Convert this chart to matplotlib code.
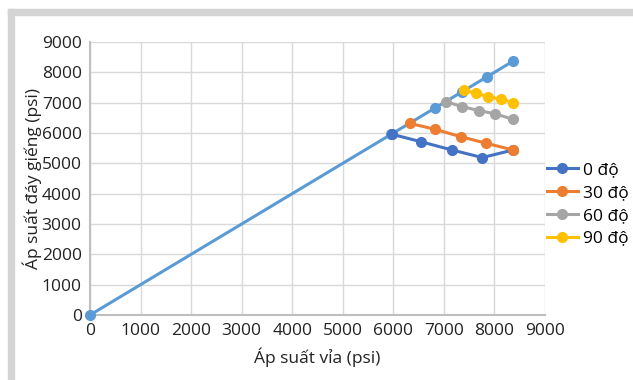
import numpy as np
import matplotlib
matplotlib.use('Agg')
import matplotlib.pyplot as plt
from matplotlib.patches import Rectangle

# du lieu doc tu hinh
ref_x = [0, 5960, 6820, 7350, 7850, 8370]
ref_y = [0, 5960, 6820, 7350, 7850, 8370]

x_0 = [5970, 6550, 7160, 7760, 8370]
y_0 = [5960, 5710, 5440, 5190, 5440]

x_30 = [6320, 6830, 7330, 7840, 8370]
y_30 = [6320, 6120, 5880, 5660, 5440]

x_60 = [7040, 7360, 7690, 8020, 8370]
y_60 = [7030, 6870, 6740, 6630, 6450]

x_90 = [7390, 7640, 7870, 8130, 8370]
y_90 = [7420, 7310, 7200, 7110, 7000]

labels = ['0 độ', '30 độ', '60 độ', '90 độ']
ticks = list(range(0, 10000, 1000))

plt.rcParams['font.family'] = ['Open Sans', 'DejaVu Sans']
fs = 12.5

fig = plt.figure(figsize=(6.33, 3.8), dpi=100)
# khung xam tren va trai
fig.patches.append(Rectangle((8/633, 1-15/380), 1, 6/380, transform=fig.transFigure,
                             color='#D4D4D4', zorder=0))
fig.patches.append(Rectangle((8/633, 0), 6/633, 1-9/380, transform=fig.transFigure,
                             color='#D4D4D4', zorder=0))

ax = fig.add_axes([90/633, 1-315/380, 455/633, 273/380])
ax.plot(ref_x, ref_y, color='#5B9BD5', lw=2.2, marker='o', ms=7, zorder=3, clip_on=False)
ax.plot(x_0, y_0, color='#4472C4', lw=2.2, marker='o', ms=7, label=labels[0], zorder=4)
ax.plot(x_30, y_30, color='#ED7D31', lw=2.2, marker='o', ms=7, label=labels[1], zorder=4)
ax.plot(x_60, y_60, color='#A5A5A5', lw=2.2, marker='o', ms=7, label=labels[2], zorder=4)
ax.plot(x_90, y_90, color='#FFC000', lw=2.2, marker='o', ms=7, label=labels[3], zorder=4)

ax.set_xlim(0, 9000)
ax.set_ylim(0, 9000)
ax.set_xticks(ticks)
ax.set_yticks(ticks)
ax.grid(True, color='#D9D9D9', lw=1.0)
ax.set_axisbelow(True)
for s in ['top', 'right']:
    ax.spines[s].set_visible(False)
for s in ['left', 'bottom']:
    ax.spines[s].set_color('#BFBFBF')
    ax.spines[s].set_linewidth(1.5)
ax.tick_params(length=0, labelsize=fs, colors='#222222', pad=6)
ax.set_xlabel('Áp suất vỉa (psi)', fontsize=fs, color='#222222', labelpad=6)
ax.set_ylabel('Áp suất đáy giếng (psi)', fontsize=fs, color='#222222', labelpad=0)
for t in ax.get_xticklabels() + ax.get_yticklabels():
    t.set_clip_on(False)

ax.legend(loc='center left', bbox_to_anchor=(1.004, 0.405), frameon=False, fontsize=fs,
          handlelength=1.8, handletextpad=0.3, labelspacing=0.38, borderpad=0,
          borderaxespad=0)

fig.savefig('out.png', dpi=100)
